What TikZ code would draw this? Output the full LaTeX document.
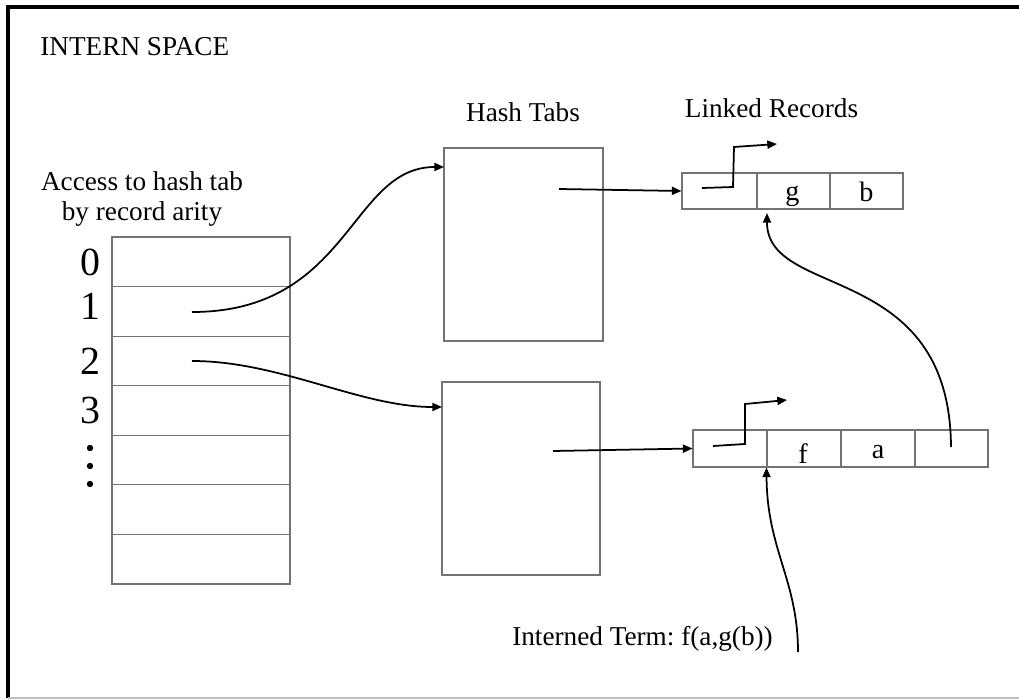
\documentclass[tikz,border=0pt]{standalone}
\usepackage{fontspec}
\setmainfont{Liberation Serif}
\usetikzlibrary{arrows.meta}
\frenchspacing
\begin{document}
\begin{tikzpicture}[x=0.02cm,y=-0.02cm,
  txt/.style={inner sep=0pt,font=\fontsize{15.5}{17}\selectfont},
  digit/.style={inner sep=0pt,font=\fontsize{22.7}{26}\selectfont},
  letter/.style={inner sep=0pt,font=\fontsize{16}{18}\selectfont},
  row/.style={draw=black!55,line width=0.6pt,inner sep=0pt,minimum width=3.56cm,minimum height=0.9914cm},
  tab/.style={draw=black!55,line width=0.6pt,inner sep=0pt},
  cell/.style={draw=black!55,line width=0.6pt,inner sep=0pt},
  arr/.style={-{Triangle[length=5.5pt,width=4.6pt]},line width=1pt}]
\useasboundingbox (0,0) rectangle (1019,700);
% frame
\draw[line width=1.8pt] (1019,7) -- (8,7) -- (8,698);
\draw[black!25,line width=1pt] (8,698) -- (1019,698);
% labels
\node[txt,anchor=base west] (title) at (40,55) {INTERN SPACE};
\node[txt,anchor=north,align=center] (access) at (142,171.5) {Access to hash tab\\by record arity};
\node[txt,anchor=base] (hashlbl) at (523,121) {Hash Tabs};
\node[txt,anchor=base] (linklbl) at (771.5,117) {Linked Records};
\node[txt,anchor=base] (term) at (642.5,645) {Interned Term: f(a,g(b))};
% arity table
\foreach \i in {0,...,6}{
  \node[row] (row\i) at (201,{237+49.57*(\i+0.5)}) {};
}
\node[digit] (d0) at (90,262) {0};
\node[digit] (d1) at (90,306) {1};
\node[digit] (d2) at (90,361) {2};
\node[digit] (d3) at (90,410) {3};
\fill (90,448) circle (3.2) (90,466) circle (3.2) (90,484) circle (3.2);
% hash tabs
\node[tab,minimum width=3.18cm,minimum height=3.86cm] (ht1) at (523.5,244.5) {};
\node[tab,minimum width=3.16cm,minimum height=3.86cm] (ht2) at (521,478.5) {};
% top record
\node[cell,minimum width=1.5cm,minimum height=0.72cm] (r1a) at (719.5,191) {};
\node[cell,minimum width=1.46cm,minimum height=0.72cm] (r1b) at (793.5,191) {};
\node[cell,minimum width=1.46cm,minimum height=0.72cm] (r1c) at (866.5,191) {};
\node[letter,anchor=base] (lg) at (792.5,200) {g};
\node[letter,anchor=base] (lb) at (866.5,201) {b};
% bottom record
\node[cell,minimum width=1.48cm,minimum height=0.74cm] (r2a) at (730,448.5) {};
\node[cell,minimum width=1.48cm,minimum height=0.74cm] (r2b) at (804,448.5) {};
\node[cell,minimum width=1.48cm,minimum height=0.74cm] (r2c) at (878,448.5) {};
\node[cell,minimum width=1.46cm,minimum height=0.74cm] (r2d) at (951.5,448.5) {};
\node[letter,anchor=base] (lf) at (803,463) {f};
\node[letter,anchor=base] (la) at (878,458) {a};
% coordinates
\coordinate (s1) at (192,312);
\coordinate (s2) at (192,361);
\coordinate (ht1in) at (444,167);
\coordinate (ht2in) at (442,407);
\coordinate (h1out) at (559,189);
\coordinate (h2out) at (553,451);
\coordinate (p1) at (702,188);
\coordinate (n1) at (777,144);
\coordinate (p2) at (713,446);
\coordinate (n2) at (787,400);
\coordinate (pd) at (951,447);
\coordinate (gin) at (767,213);
\coordinate (tstart) at (798,652);
% connectors
\draw[arr] (s1) .. controls (350,312) and (350,167) .. (ht1in);
\draw[arr] (s2) .. controls (280,361) and (360,407) .. (ht2in);
\draw[arr] (h1out) -- (r1a.west);
\draw[arr] (h2out) -- (r2a.west);
\draw[arr] (p1) -- (733,187) -- (734,147) -- (n1);
\draw[arr] (p2) -- (745,444) -- (745,404) -- (n2);
\draw[arr] (pd) .. controls (950,260) and (767,300) .. (gin);
\draw[arr] (tstart) .. controls (798,580) and (767,550) .. (r2b.south west);
\end{tikzpicture}
\end{document}
